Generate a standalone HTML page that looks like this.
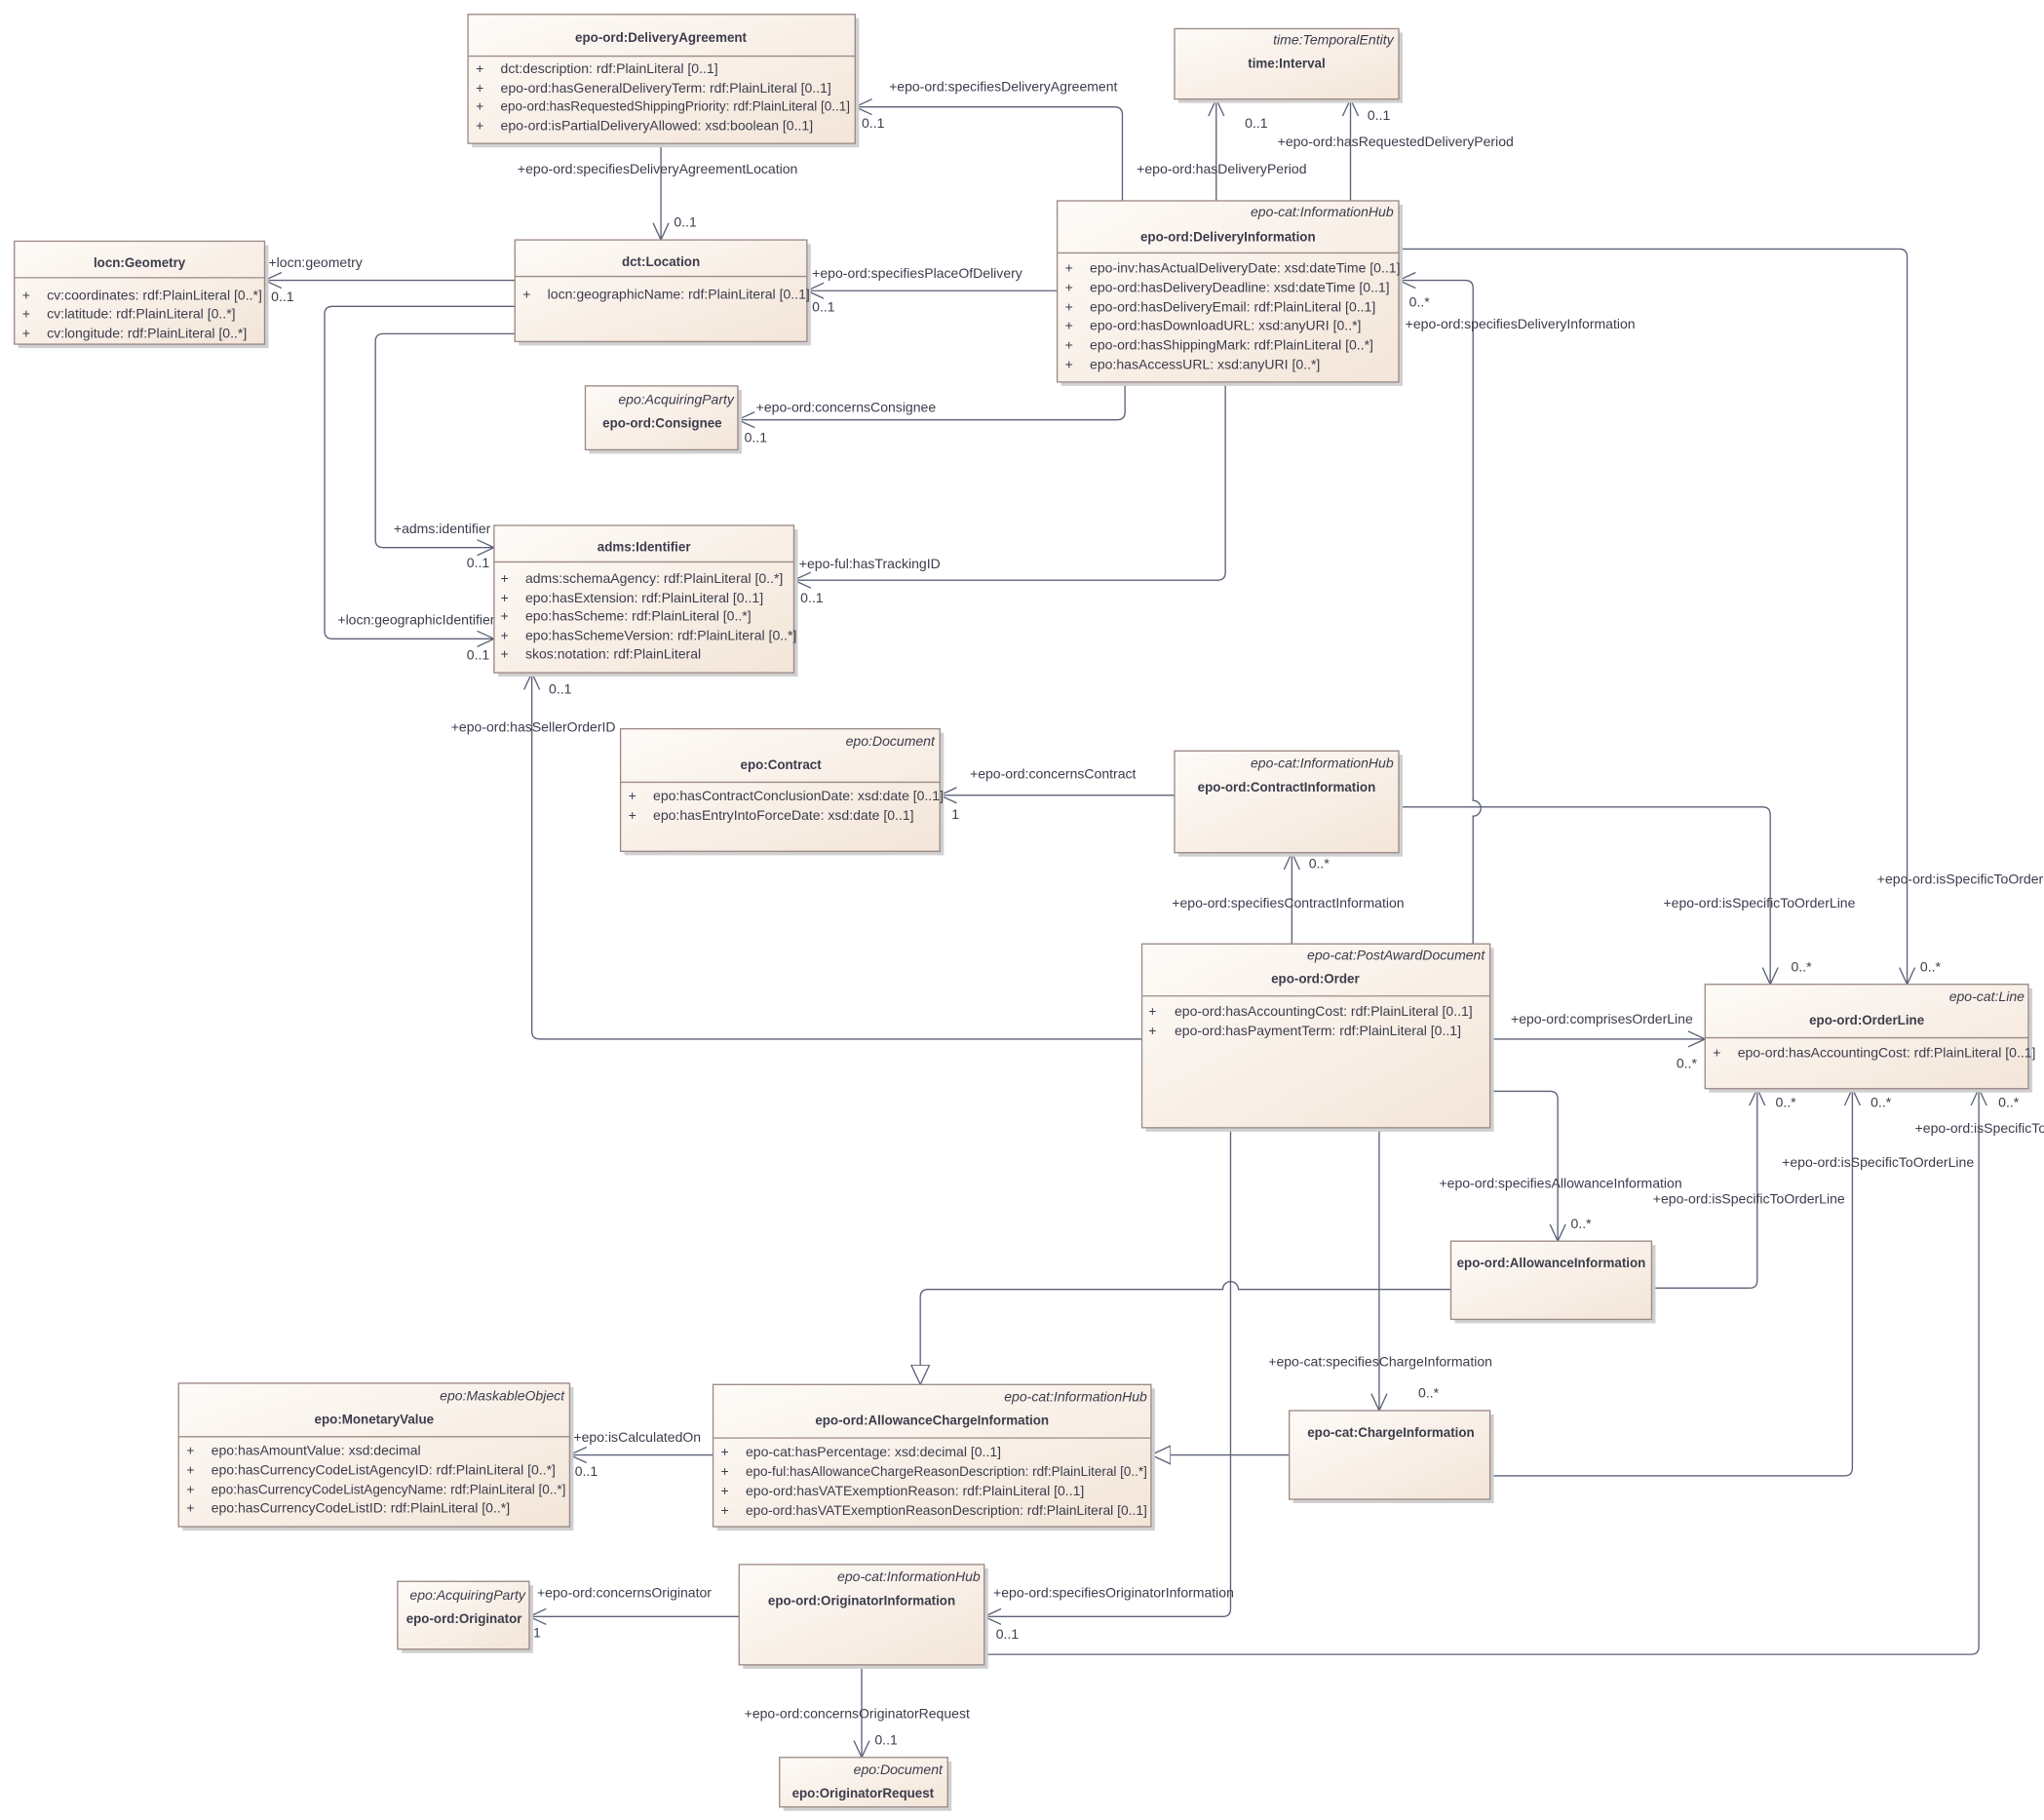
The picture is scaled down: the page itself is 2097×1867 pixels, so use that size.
<!DOCTYPE html>
<html><head><meta charset="utf-8"><style>
html,body{margin:0;padding:0;background:#fff;}
svg{display:block;}
text{font-family:"Liberation Sans",sans-serif;font-size:10.5px;fill:#3c3c4c;}
.t{font-weight:bold;text-anchor:middle;font-size:10px;}
.s{font-style:italic;text-anchor:end;}
.c{fill:none;stroke:#5c6178;stroke-width:1;}
.b{fill:url(#g);stroke:#9c8a86;stroke-width:1;}
.sh{fill:#d0d0d0;}
.sp{stroke:#9c8a86;stroke-width:1;}
</style></head><body>
<svg width="2097" height="1867" viewBox="0 0 1568 1396" xmlns="http://www.w3.org/2000/svg">
<defs>
<linearGradient id="g" x1="0" y1="0" x2="1" y2="1"><stop offset="0" stop-color="#fefbf8"/><stop offset="1" stop-color="#f3e5d8"/></linearGradient>
<marker id="a" markerWidth="14" markerHeight="14" refX="13" refY="7" orient="auto" markerUnits="userSpaceOnUse"><path d="M0,1 L13,7 L0,13" fill="none" stroke="#5c6178" stroke-width="1"/></marker>
<marker id="h" markerWidth="16" markerHeight="16" refX="15" refY="8" orient="auto" markerUnits="userSpaceOnUse"><path d="M0,1 L15,8 L0,15 Z" fill="#fff" stroke="#5c6178" stroke-width="1"/></marker>
</defs>

<!-- connectors -->
<path class="c" marker-end="url(#a)" d="M861,154 L861,88 Q861,82 855,82 L656,82"/>
<path class="c" marker-end="url(#a)" d="M507,110 L507,184"/>
<path class="c" marker-end="url(#a)" d="M933,154 L933,76"/>
<path class="c" marker-end="url(#a)" d="M1036,154 L1036,76"/>
<path class="c" marker-end="url(#a)" d="M811,223 L619,223"/>
<path class="c" marker-end="url(#a)" d="M395,215 L203,215"/>
<path class="c" marker-end="url(#a)" d="M395,235 L255,235 Q249,235 249,241 L249,484 Q249,490 255,490 L379,490"/>
<path class="c" marker-end="url(#a)" d="M395,256 L294,256 Q288,256 288,262 L288,414 Q288,420 294,420 L379,420"/>
<path class="c" marker-end="url(#a)" d="M863,293 L863,316 Q863,322 857,322 L566,322"/>
<path class="c" marker-end="url(#a)" d="M940,293 L940,439 Q940,445 934,445 L609,445"/>
<path class="c" marker-end="url(#a)" d="M1073,191 L1457,191 Q1463,191 1463,197 L1463,755"/>
<path class="c" marker-end="url(#a)" d="M1130,724 L1130,626 A5,5 0 0 0 1130,614 L1130,221 Q1130,215 1124,215 L1073,215"/>
<path class="c" marker-end="url(#a)" d="M901,610 L721,610"/>
<path class="c" marker-end="url(#a)" d="M991,724 L991,654"/>
<path class="c" marker-end="url(#a)" d="M1073,619 L1352,619 Q1358,619 1358,625 L1358,755"/>
<path class="c" marker-end="url(#a)" d="M876,797 L414,797 Q408,797 408,791 L408,516"/>
<path class="c" marker-end="url(#a)" d="M1143,797 L1308,797"/>
<path class="c" marker-end="url(#a)" d="M1143,837 L1189,837 Q1195,837 1195,843 L1195,952"/>
<path class="c" marker-end="url(#a)" d="M1267,988 L1342,988 Q1348,988 1348,982 L1348,835"/>
<path class="c" marker-end="url(#h)" d="M1113,989 L950,989 A6,6 0 0 0 938,989 L712,989 Q706,989 706,995 L706,1062"/>
<path class="c" marker-end="url(#a)" d="M1058,865 L1058,1082"/>
<path class="c" marker-end="url(#h)" d="M989,1116 L883,1116"/>
<path class="c" marker-end="url(#a)" d="M1143,1132 L1415,1132 Q1421,1132 1421,1126 L1421,835"/>
<path class="c" marker-end="url(#a)" d="M547,1116 L437,1116"/>
<path class="c" marker-end="url(#a)" d="M944,865 L944,1234 Q944,1240 938,1240 L755,1240"/>
<path class="c" marker-end="url(#a)" d="M567,1240 L406,1240"/>
<path class="c" marker-end="url(#a)" d="M661,1277 L661,1348"/>
<path class="c" marker-end="url(#a)" d="M755,1269 L1512,1269 Q1518,1269 1518,1263 L1518,835"/>

<!-- connector labels -->
<text x="682" y="70">+epo-ord:specifiesDeliveryAgreement</text><text x="661" y="98">0..1</text>
<text x="397" y="133">+epo-ord:specifiesDeliveryAgreementLocation</text><text x="517" y="174">0..1</text>
<text x="872" y="133">+epo-ord:hasDeliveryPeriod</text><text x="955" y="98">0..1</text>
<text x="980" y="112">+epo-ord:hasRequestedDeliveryPeriod</text><text x="1049" y="92">0..1</text>
<text x="623" y="213">+epo-ord:specifiesPlaceOfDelivery</text><text x="623" y="239">0..1</text>
<text x="206" y="205">+locn:geometry</text><text x="208" y="231">0..1</text>
<text x="259" y="479">+locn:geographicIdentifier</text><text x="358" y="506">0..1</text>
<text x="302" y="409">+adms:identifier</text><text x="358" y="435">0..1</text>
<text x="580" y="316">+epo-ord:concernsConsignee</text><text x="571" y="339">0..1</text>
<text x="613" y="436">+epo-ful:hasTrackingID</text><text x="614" y="462">0..1</text>
<text x="1440" y="678">+epo-ord:isSpecificToOrder</text><text x="1473" y="745">0..*</text>
<text x="1078" y="252">+epo-ord:specifiesDeliveryInformation</text><text x="1081" y="235">0..*</text>
<text x="744" y="597">+epo-ord:concernsContract</text><text x="730" y="628">1</text>
<text x="899" y="696">+epo-ord:specifiesContractInformation</text><text x="1004" y="666">0..*</text>
<text x="1276" y="696">+epo-ord:isSpecificToOrderLine</text><text x="1374" y="745">0..*</text>
<text x="346" y="561">+epo-ord:hasSellerOrderID</text><text x="421" y="532">0..1</text>
<text x="1159" y="785">+epo-ord:comprisesOrderLine</text><text x="1286" y="819">0..*</text>
<text x="1104" y="911">+epo-ord:specifiesAllowanceInformation</text><text x="1205" y="942">0..*</text>
<text x="1268" y="923">+epo-ord:isSpecificToOrderLine</text><text x="1362" y="849">0..*</text>
<text x="973" y="1048">+epo-cat:specifiesChargeInformation</text><text x="1088" y="1072">0..*</text>
<text x="1367" y="895">+epo-ord:isSpecificToOrderLine</text><text x="1435" y="849">0..*</text>
<text x="440" y="1106">+epo:isCalculatedOn</text><text x="441" y="1132">0..1</text>
<text x="762" y="1225">+epo-ord:specifiesOriginatorInformation</text><text x="764" y="1257">0..1</text>
<text x="412" y="1225">+epo-ord:concernsOriginator</text><text x="409" y="1256">1</text>
<text x="571" y="1318">+epo-ord:concernsOriginatorRequest</text><text x="671" y="1338">0..1</text>
<text x="1469" y="869">+epo-ord:isSpecificTo</text><text x="1533" y="849">0..*</text>

<!-- boxes -->
<g>
<rect class="sh" x="362" y="14" width="297" height="99"/><rect class="b" x="359" y="11" width="297" height="99"/>
<line class="sp" x1="359" y1="43" x2="656" y2="43"/>
<text class="t" x="507" y="32">epo-ord:DeliveryAgreement</text>
<text x="365" y="56">+</text><text x="384" y="56">dct:description: rdf:PlainLiteral [0..1]</text>
<text x="365" y="71">+</text><text x="384" y="71">epo-ord:hasGeneralDeliveryTerm: rdf:PlainLiteral [0..1]</text>
<text x="365" y="85">+</text><text x="384" y="85" textLength="268" lengthAdjust="spacingAndGlyphs">epo-ord:hasRequestedShippingPriority: rdf:PlainLiteral [0..1]</text>
<text x="365" y="100">+</text><text x="384" y="100">epo-ord:isPartialDeliveryAllowed: xsd:boolean [0..1]</text>
</g>
<g>
<rect class="sh" x="904" y="25" width="172" height="54"/><rect class="b" x="901" y="22" width="172" height="54"/>
<text class="s" x="1069" y="34">time:TemporalEntity</text>
<text class="t" x="987" y="52">time:Interval</text>
</g>
<g>
<rect class="sh" x="814" y="157" width="262" height="139"/><rect class="b" x="811" y="154" width="262" height="139"/>
<line class="sp" x1="811" y1="194" x2="1073" y2="194"/>
<text class="s" x="1069" y="166">epo-cat:InformationHub</text>
<text class="t" x="942" y="185">epo-ord:DeliveryInformation</text>
<text x="817" y="209">+</text><text x="836" y="209">epo-inv:hasActualDeliveryDate: xsd:dateTime [0..1]</text>
<text x="817" y="224">+</text><text x="836" y="224">epo-ord:hasDeliveryDeadline: xsd:dateTime [0..1]</text>
<text x="817" y="239">+</text><text x="836" y="239">epo-ord:hasDeliveryEmail: rdf:PlainLiteral [0..1]</text>
<text x="817" y="253">+</text><text x="836" y="253">epo-ord:hasDownloadURL: xsd:anyURI [0..*]</text>
<text x="817" y="268">+</text><text x="836" y="268">epo-ord:hasShippingMark: rdf:PlainLiteral [0..*]</text>
<text x="817" y="283">+</text><text x="836" y="283">epo:hasAccessURL: xsd:anyURI [0..*]</text>
</g>
<g>
<rect class="sh" x="14" y="188" width="192" height="79"/><rect class="b" x="11" y="185" width="192" height="79"/>
<line class="sp" x1="11" y1="213" x2="203" y2="213"/>
<text class="t" x="107" y="205">locn:Geometry</text>
<text x="17" y="230">+</text><text x="36" y="230">cv:coordinates: rdf:PlainLiteral [0..*]</text>
<text x="17" y="244">+</text><text x="36" y="244">cv:latitude: rdf:PlainLiteral [0..*]</text>
<text x="17" y="259">+</text><text x="36" y="259">cv:longitude: rdf:PlainLiteral [0..*]</text>
</g>
<g>
<rect class="sh" x="398" y="187" width="224" height="78"/><rect class="b" x="395" y="184" width="224" height="78"/>
<line class="sp" x1="395" y1="212" x2="619" y2="212"/>
<text class="t" x="507" y="204">dct:Location</text>
<text x="401" y="229">+</text><text x="420" y="229">locn:geographicName: rdf:PlainLiteral [0..1]</text>
</g>
<g>
<rect class="sh" x="452" y="299" width="117" height="49"/><rect class="b" x="449" y="296" width="117" height="49"/>
<text class="s" x="563" y="310">epo:AcquiringParty</text>
<text class="t" x="508" y="328">epo-ord:Consignee</text>
</g>
<g>
<rect class="sh" x="382" y="406" width="230" height="113"/><rect class="b" x="379" y="403" width="230" height="113"/>
<line class="sp" x1="379" y1="431" x2="609" y2="431"/>
<text class="t" x="494" y="423">adms:Identifier</text>
<text x="384" y="447">+</text><text x="403" y="447">adms:schemaAgency: rdf:PlainLiteral [0..*]</text>
<text x="384" y="462">+</text><text x="403" y="462">epo:hasExtension: rdf:PlainLiteral [0..1]</text>
<text x="384" y="476">+</text><text x="403" y="476">epo:hasScheme: rdf:PlainLiteral [0..*]</text>
<text x="384" y="491">+</text><text x="403" y="491">epo:hasSchemeVersion: rdf:PlainLiteral [0..*]</text>
<text x="384" y="505">+</text><text x="403" y="505">skos:notation: rdf:PlainLiteral</text>
</g>
<g>
<rect class="sh" x="479" y="562" width="245" height="94"/><rect class="b" x="476" y="559" width="245" height="94"/>
<line class="sp" x1="476" y1="600" x2="721" y2="600"/>
<text class="s" x="717" y="572">epo:Document</text>
<text class="t" x="599" y="590">epo:Contract</text>
<text x="482" y="614">+</text><text x="501" y="614">epo:hasContractConclusionDate: xsd:date [0..1]</text>
<text x="482" y="629">+</text><text x="501" y="629">epo:hasEntryIntoForceDate: xsd:date [0..1]</text>
</g>
<g>
<rect class="sh" x="904" y="579" width="172" height="78"/><rect class="b" x="901" y="576" width="172" height="78"/>
<text class="s" x="1069" y="589">epo-cat:InformationHub</text>
<text class="t" x="987" y="607">epo-ord:ContractInformation</text>
</g>
<g>
<rect class="sh" x="879" y="727" width="267" height="141"/><rect class="b" x="876" y="724" width="267" height="141"/>
<line class="sp" x1="876" y1="764" x2="1143" y2="764"/>
<text class="s" x="1139" y="736">epo-cat:PostAwardDocument</text>
<text class="t" x="1009" y="754">epo-ord:Order</text>
<text x="881" y="779">+</text><text x="901" y="779">epo-ord:hasAccountingCost: rdf:PlainLiteral [0..1]</text>
<text x="881" y="794">+</text><text x="901" y="794">epo-ord:hasPaymentTerm: rdf:PlainLiteral [0..1]</text>
</g>
<g>
<rect class="sh" x="1311" y="758" width="248" height="80"/><rect class="b" x="1308" y="755" width="248" height="80"/>
<line class="sp" x1="1308" y1="796" x2="1556" y2="796"/>
<text class="s" x="1553" y="768">epo-cat:Line</text>
<text class="t" x="1432" y="786">epo-ord:OrderLine</text>
<text x="1314" y="811">+</text><text x="1333" y="811">epo-ord:hasAccountingCost: rdf:PlainLiteral [0..1]</text>
</g>
<g>
<rect class="sh" x="1116" y="955" width="154" height="60"/><rect class="b" x="1113" y="952" width="154" height="60"/>
<text class="t" x="1190" y="972">epo-ord:AllowanceInformation</text>
</g>
<g>
<rect class="sh" x="140" y="1064" width="300" height="110"/><rect class="b" x="137" y="1061" width="300" height="110"/>
<line class="sp" x1="137" y1="1102" x2="437" y2="1102"/>
<text class="s" x="433" y="1074">epo:MaskableObject</text>
<text class="t" x="287" y="1092">epo:MonetaryValue</text>
<text x="143" y="1116">+</text><text x="162" y="1116">epo:hasAmountValue: xsd:decimal</text>
<text x="143" y="1131">+</text><text x="162" y="1131">epo:hasCurrencyCodeListAgencyID: rdf:PlainLiteral [0..*]</text>
<text x="143" y="1146">+</text><text x="162" y="1146" textLength="272" lengthAdjust="spacingAndGlyphs">epo:hasCurrencyCodeListAgencyName: rdf:PlainLiteral [0..*]</text>
<text x="143" y="1160">+</text><text x="162" y="1160">epo:hasCurrencyCodeListID: rdf:PlainLiteral [0..*]</text>
</g>
<g>
<rect class="sh" x="550" y="1065" width="336" height="109"/><rect class="b" x="547" y="1062" width="336" height="109"/>
<line class="sp" x1="547" y1="1103" x2="883" y2="1103"/>
<text class="s" x="880" y="1075">epo-cat:InformationHub</text>
<text class="t" x="715" y="1093">epo-ord:AllowanceChargeInformation</text>
<text x="553" y="1117">+</text><text x="572" y="1117">epo-cat:hasPercentage: xsd:decimal [0..1]</text>
<text x="553" y="1132">+</text><text x="572" y="1132" textLength="308" lengthAdjust="spacingAndGlyphs">epo-ful:hasAllowanceChargeReasonDescription: rdf:PlainLiteral [0..*]</text>
<text x="553" y="1147">+</text><text x="572" y="1147">epo-ord:hasVATExemptionReason: rdf:PlainLiteral [0..1]</text>
<text x="553" y="1162">+</text><text x="572" y="1162" textLength="308" lengthAdjust="spacingAndGlyphs">epo-ord:hasVATExemptionReasonDescription: rdf:PlainLiteral [0..1]</text>
</g>
<g>
<rect class="sh" x="992" y="1085" width="154" height="68"/><rect class="b" x="989" y="1082" width="154" height="68"/>
<text class="t" x="1067" y="1102">epo-cat:ChargeInformation</text>
</g>
<g>
<rect class="sh" x="308" y="1216" width="101" height="52"/><rect class="b" x="305" y="1213" width="101" height="52"/>
<text class="s" x="403" y="1227">epo:AcquiringParty</text>
<text class="t" x="356" y="1245">epo-ord:Originator</text>
</g>
<g>
<rect class="sh" x="570" y="1203" width="188" height="77"/><rect class="b" x="567" y="1200" width="188" height="77"/>
<text class="s" x="752" y="1213">epo-cat:InformationHub</text>
<text class="t" x="661" y="1231">epo-ord:OriginatorInformation</text>
</g>
<g>
<rect class="sh" x="601" y="1351" width="129" height="38"/><rect class="b" x="598" y="1348" width="129" height="38"/>
<text class="s" x="723" y="1361">epo:Document</text>
<text class="t" x="662" y="1379">epo:OriginatorRequest</text>
</g>
</svg>
</body></html>
